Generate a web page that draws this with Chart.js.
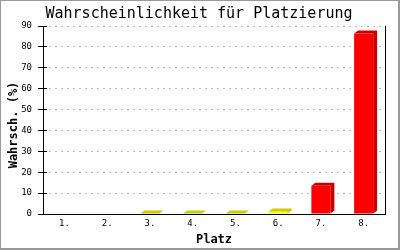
<!DOCTYPE html>
<html><head><meta charset="utf-8">
<script src="https://cdn.jsdelivr.net/npm/chart.js@4"></script>
<style>html,body{margin:0;padding:0;background:#fff}#c{display:block}</style>
</head><body>
<canvas id="c" width="400" height="250"></canvas>
<script>
const categories = ['1.', '2.', '3.', '4.', '5.', '6.', '7.', '8.'];
const probabilities = [0, 0, 0.2, 0.2, 0.2, 1.2, 13.5, 86.4];
const frontColors = ['#ffff00', '#ffff00', '#ffff00', '#ffff00', '#ffff00', '#ffff00', '#ff0000', '#ff0000'];
const sideColors = ['#cccc00', '#cccc00', '#cccc00', '#cccc00', '#cccc00', '#cccc00', '#cc0000', '#cc0000'];
const yTicks = [0, 10, 20, 30, 40, 50, 60, 70, 80, 90];
const chartTitle = 'Wahrscheinlichkeit für Platzierung';
const xTitle = 'Platz';
const yTitle = 'Wahrsch. (%)';

const MONO = '"DejaVu Sans Mono", "Liberation Mono", monospace';

const bar3d = {
  id: 'bar3d',
  afterDatasetsDraw(chart) {
    const ctx = chart.ctx;
    const meta = chart.getDatasetMeta(0);
    const dx = 4, dy = 3;
    ctx.save();
    meta.data.forEach((el, i) => {
      if (!probabilities[i]) return;
      const p = el.getProps(['x', 'y', 'base', 'width'], true);
      const l = p.x - p.width / 2, r = p.x + p.width / 2;
      ctx.fillStyle = sideColors[i];
      ctx.beginPath();
      ctx.moveTo(l, p.y);
      ctx.lineTo(l + dx, p.y - dy);
      ctx.lineTo(r + dx, p.y - dy);
      ctx.lineTo(r + dx, p.base - dy);
      ctx.lineTo(r, p.base);
      ctx.lineTo(r, p.y);
      ctx.closePath();
      ctx.fill();
    });
    ctx.restore();
  }
};

const decor = {
  id: 'decor',
  afterDraw(chart) {
    const ctx = chart.ctx;
    const ys = chart.scales.y;
    const area = chart.chartArea;
    ctx.save();
    ctx.fillStyle = '#000';
    yTicks.forEach(v => {
      const py = Math.round(ys.getPixelForValue(v) - 0.5);
      ctx.fillRect(Math.round(area.left), py, 4, 1);
    });
    ctx.fillStyle = '#000';
    ctx.font = '15px ' + MONO;
    ctx.textAlign = 'center';
    ctx.textBaseline = 'alphabetic';
    ctx.fillText(chartTitle, 199, 18);
    ctx.font = 'bold 12px ' + MONO;
    ctx.fillText(xTitle, (area.left + area.right) / 2, 243);
    ctx.save();
    ctx.translate(17, 125);
    ctx.rotate(-Math.PI / 2);
    ctx.fillText(yTitle, 0, 0);
    ctx.restore();
    ctx.fillStyle = '#999999';
    ctx.fillRect(0, 0, 400, 1);
    ctx.fillRect(0, 0, 1, 250);
    ctx.fillRect(398, 0, 2, 250);
    ctx.fillRect(0, 248, 400, 2);
    ctx.restore();
  }
};

new Chart(document.getElementById('c'), {
  type: 'bar',
  data: {
    labels: categories,
    datasets: [{
      data: probabilities,
      backgroundColor: frontColors,
      borderWidth: 0,
      categoryPercentage: 1,
      barPercentage: 0.445,
      yAxisID: 'y'
    }]
  },
  options: {
    responsive: false,
    devicePixelRatio: 1,
    animation: false,
    layout: { padding: { top: 26, left: 0, right: 0, bottom: 0 } },
    plugins: { legend: { display: false }, tooltip: { enabled: false }, title: { display: false } },
    scales: {
      x: {
        grid: { display: false, drawTicks: false },
        border: { display: true, color: '#000', width: 1 },
        ticks: { color: '#000', font: { family: MONO, size: 9 }, padding: 4, maxRotation: 0 },
        afterFit(s) { s.height = 36; }
      },
      y: {
        position: 'left',
        min: 0, max: 90,
        afterBuildTicks(s) { s.ticks = yTicks.map(v => ({ value: v })); },
        grid: { color: '#bbbbbb', lineWidth: 1, tickLength: 5, tickColor: '#000', tickBorderDash: [], tickWidth: 1 },
        border: { display: true, color: '#000', width: 1, dash: [2, 4], dashOffset: 1 },
        ticks: { color: '#000', font: { family: MONO, size: 9 }, padding: 6 },
        afterFit(s) { s.width = 43; }
      },
      y2: {
        position: 'right',
        grid: { display: false, drawTicks: false },
        ticks: { display: false },
        border: { display: true, color: '#000', width: 1 },
        afterFit(s) { s.width = 15; }
      }
    }
  },
  plugins: [bar3d, decor]
});
</script>
</body></html>
